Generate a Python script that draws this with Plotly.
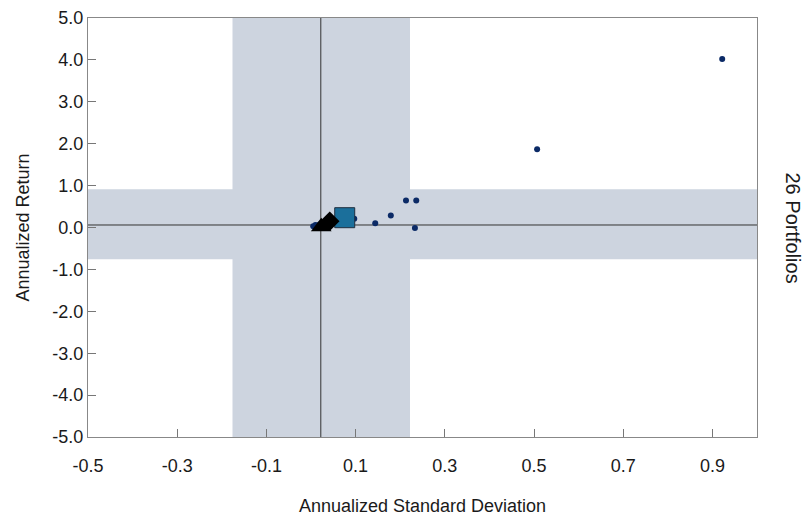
import plotly.graph_objects as go

# Data
port_x = [0.922, 0.507, 0.213, 0.236, 0.179, 0.144, 0.233, 0.097, 0.005, 0.010, 0.015,
          0.020, 0.030, 0.035, 0.045, 0.050, 0.060, 0.070, 0.080, 0.085, 0.025, 0.040,
          0.055, 0.065, 0.075, 0.090]
port_y = [4.02, 1.87, 0.645, 0.645, 0.287, 0.10, -0.01, 0.21, 0.03, 0.06, 0.05,
          0.08, 0.05, 0.10, 0.12, 0.15, 0.18, 0.20, 0.22, 0.24, 0.04, 0.10,
          0.16, 0.19, 0.21, 0.23]
square_x, square_y = [0.0756], [0.234]
diamond_x, diamond_y = [0.042], [0.15]
triangle_x, triangle_y = [0.023], [0.02]

bench_x, bench_y = 0.022, 0.06
band_x = [-0.176, 0.222]
band_y = [-0.76, 0.91]

x_ticks = [-0.5, -0.3, -0.1, 0.1, 0.3, 0.5, 0.7, 0.9]
y_ticks = [5, 4, 3, 2, 1, 0, -1, -2, -3, -4, -5]

x_text = [f"{v:.1f}" for v in x_ticks]
y_text = [f"{v:.1f}" for v in y_ticks]

band_color = "#cdd4df"
font = "Liberation Sans, Arial, sans-serif"
fsize = 18

fig = go.Figure()
fig.add_trace(go.Scatter(x=port_x, y=port_y, mode="markers",
                         marker=dict(color="#0b2a66", size=6), hoverinfo="x+y"))
fig.add_trace(go.Scatter(x=square_x, y=square_y, mode="markers",
                         marker=dict(symbol="square", color="#1b6f9b", size=20,
                                     line=dict(color="#1f2f3f", width=1))))
fig.add_trace(go.Scatter(x=diamond_x, y=diamond_y, mode="markers",
                         marker=dict(symbol="diamond", color="black", size=15)))
fig.add_trace(go.Scatter(x=triangle_x, y=triangle_y, mode="markers",
                         marker=dict(symbol="triangle-up", color="black", size=18)))

# bands
fig.add_shape(type="rect", xref="x", yref="y", x0=band_x[0], x1=band_x[1], y0=-5, y1=5,
              fillcolor=band_color, line=dict(width=0), layer="below")
fig.add_shape(type="rect", xref="x", yref="y", x0=-0.5, x1=1.0, y0=band_y[0], y1=band_y[1],
              fillcolor=band_color, line=dict(width=0), layer="below")
# crosshair
fig.add_shape(type="line", xref="x", yref="y", x0=bench_x, x1=bench_x, y0=-5, y1=5,
              line=dict(color="#333333", width=1), layer="below")
fig.add_shape(type="line", xref="x", yref="y", x0=-0.5, x1=1.0, y0=bench_y, y1=bench_y,
              line=dict(color="#333333", width=1), layer="below")

fig.add_annotation(text="26 Portfolios", xref="paper", yref="paper", x=1.0, y=0.5,
                   xanchor="center", yanchor="middle",
                   xshift=36, showarrow=False, textangle=90,
                   font=dict(family=font, size=20, color="#1a1a1a"))

fig.update_layout(
    width=804, height=519,
    margin=dict(l=88, r=47, t=18, b=82),
    plot_bgcolor="white", paper_bgcolor="white",
    showlegend=False,
    font=dict(family=font, size=fsize, color="#1a1a1a"),
    xaxis=dict(range=[-0.5, 1.0], tickvals=x_ticks, ticktext=x_text,
               ticks="inside", ticklen=8, tickcolor="#777777",
               ticklabelstandoff=12, automargin=False,
               showline=True, mirror=True, linecolor="#888888", linewidth=1,
               showgrid=False, zeroline=False,
               title=dict(text="Annualized Standard Deviation", standoff=24,
                          font=dict(size=fsize))),
    yaxis=dict(range=[-5, 5], tickvals=y_ticks, ticktext=y_text,
               ticks="inside", ticklen=8, tickcolor="#777777",
               ticklabelstandoff=0, automargin=False,
               showline=True, mirror=True, linecolor="#888888", linewidth=1,
               showgrid=False, zeroline=False,
               title=dict(text="Annualized Return", standoff=18,
                          font=dict(size=fsize))),
)

fig.write_html("out.html")
